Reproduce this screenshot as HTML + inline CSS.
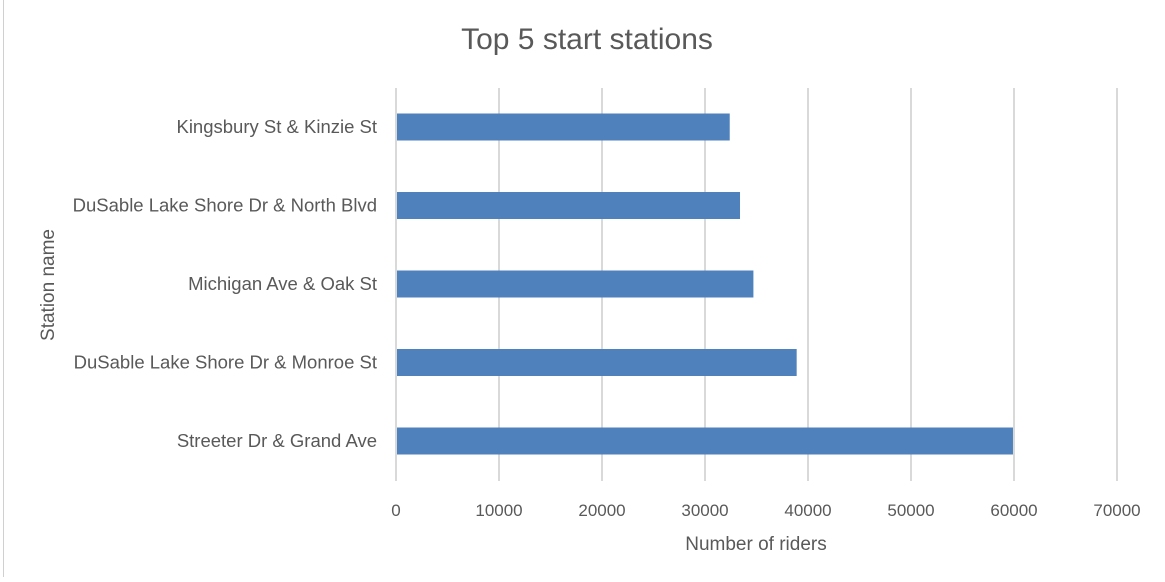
<!DOCTYPE html>
<html><head><meta charset="utf-8"><style>
body{margin:0;background:#fff;width:1165px;height:577px;overflow:hidden;font-family:"Liberation Sans",sans-serif;}
</style></head><body>
<svg width="1165" height="577" xmlns="http://www.w3.org/2000/svg">
<line x1="3.5" y1="0" x2="3.5" y2="577" stroke="#d0d0d0"/>
<text x="587" y="49" font-size="30" fill="#595959" text-anchor="middle">Top 5 start stations</text>
<g id="grid"></g><g id="bars"></g><g id="labels"></g>
<text x="756" y="550" font-size="19" fill="#595959" text-anchor="middle">Number of riders</text>
<text transform="translate(54,285) rotate(-90)" font-size="19" fill="#595959" text-anchor="middle">Station name</text>
</svg>
<script>
const categories=["Kingsbury St & Kinzie St","DuSable Lake Shore Dr & North Blvd","Michigan Ave & Oak St","DuSable Lake Shore Dr & Monroe St","Streeter Dr & Grand Ave"];
const values=[32400,33400,34700,38900,59900];
const ticks=[0,10000,20000,30000,40000,50000,60000,70000];
const NS="http://www.w3.org/2000/svg";
const x=v=>396+v*103/10000;
const yc=i=>127+i*78.5;
function mk(t,a,p){const e=document.createElementNS(NS,t);for(const k in a)e.setAttribute(k,a[k]);p.appendChild(e);return e;}
const g=document.getElementById('grid'),b=document.getElementById('bars'),l=document.getElementById('labels');
ticks.forEach(t=>{
const ln=mk('line',{x1:x(t),x2:x(t),y1:88,y2:481,stroke:'#d9d9d9','stroke-width':2},g);


const tx=mk('text',{x:x(t),y:516,'font-size':17,fill:'#595959','text-anchor':'middle'},l);
tx.textContent=t;


});
categories.forEach((c,i)=>{
const r=mk('rect',{x:x(0)+1,y:yc(i)-13.5,width:x(values[i])-x(0)-1,height:27,fill:'#4f81bd'},b);


const tx=mk('text',{x:377,y:yc(i)+6,'font-size':18.5,fill:'#595959','text-anchor':'end'},l);
tx.textContent=c;


});
</script>
</body></html>
